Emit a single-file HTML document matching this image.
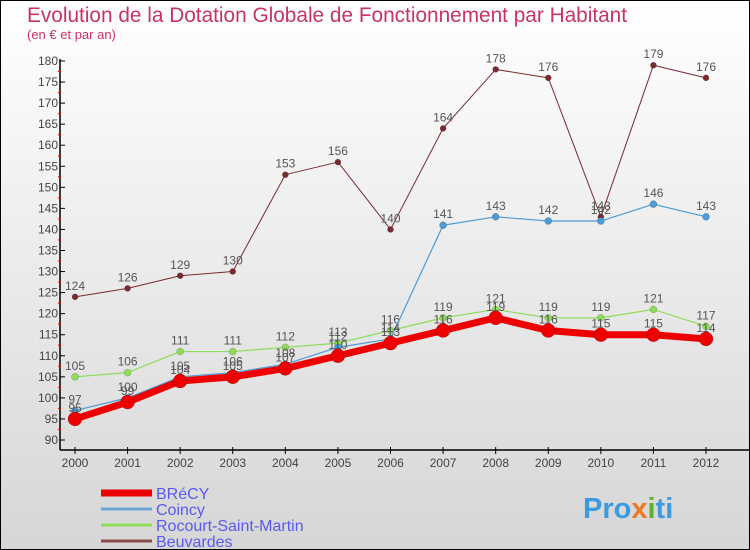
<!DOCTYPE html>
<html><head><meta charset="utf-8"><style>
body{margin:0}
#c{width:748px;height:548px;border:1px solid #000;background:linear-gradient(#fff,#d6d6d6);position:relative;font-family:"Liberation Sans",sans-serif;overflow:hidden}
</style></head><body>
<div id="c">
<svg id="s" width="748" height="548" xmlns="http://www.w3.org/2000/svg" font-family="Liberation Sans, sans-serif">
<text x="26" y="21" font-size="20.8" fill="#c8336a">Evolution de la Dotation Globale de Fonctionnement par Habitant</text>
<text x="26" y="38" font-size="13" fill="#c8336a">(en € et par an)</text>
<g id="axes"></g><g id="series"></g><g id="legend"></g>
<text x="582" y="517" font-size="29" font-weight="bold" fill="#3a9be0">Pro<tspan fill="#f07820">x</tspan><tspan fill="#60b030">i</tspan>ti</text>
</svg></div>
<script>
const years=[2000,2001,2002,2003,2004,2005,2006,2007,2008,2009,2010,2011,2012];
const brecy=[95,99,104,105,107,110,113,116,119,116,115,115,114];
const coincy=[97,100,105,106,108,112,114,141,143,142,142,146,143];
const rocourt=[105,106,111,111,112,113,116,119,121,119,119,121,117];
const beuvardes=[124,126,129,130,153,156,140,164,178,176,143,179,176];
const yTicks=[90,95,100,105,110,115,120,125,130,135,140,145,150,155,160,165,170,175,180];
const NS="http://www.w3.org/2000/svg";
const X=i=>74+i*(631/12);
const Y=v=>439-(v-90)*(379/90);
function mk(t,a,p){const e=document.createElementNS(NS,t);for(const k in a)e.setAttribute(k,a[k]);p.appendChild(e);return e;}
const ax=document.getElementById('axes');
let l=mk('line',{x1:59,y1:58,x2:59,y2:449,stroke:'#000','stroke-width':1.5},ax);


l=mk('line',{x1:59,y1:449,x2:748,y2:449,stroke:'#000','stroke-width':1.5},ax);


yTicks.forEach(v=>{mk('line',{x1:59,y1:Y(v),x2:64,y2:Y(v),stroke:'#000'},ax);
if(v<180)mk('line',{x1:57,y1:Y(v+2.5),x2:60,y2:Y(v+2.5),stroke:'#e00'},ax);
const t=mk('text',{x:57,y:Y(v)+4,'text-anchor':'end','font-size':12,fill:'#444'},ax);t.textContent=v;

});
years.forEach((y,i)=>{mk('line',{x1:X(i),y1:446,x2:X(i),y2:453,stroke:'#000'},ax);
const t=mk('text',{x:X(i),y:466,'text-anchor':'middle','font-size':12,fill:'#444'},ax);t.textContent=y;

});
const sg=document.getElementById('series');
function series(d,color,w,r,name){
const g=mk('g',{},sg);


mk('polyline',{points:d.map((v,i)=>X(i)+','+Y(v)).join(' '),fill:'none',stroke:color,'stroke-width':w,'stroke-linejoin':'round'},g);
d.forEach((v,i)=>{const c=mk('circle',{cx:X(i),cy:Y(v),r:r,fill:color,stroke:'rgba(0,0,0,0.3)','stroke-width':0.5},g);


const t=mk('text',{x:X(i),y:Y(v)-7,'text-anchor':'middle','font-size':12,fill:'#555'},g);t.textContent=v;

});}
series(beuvardes,'#7a2a30',1,3,'beuvardes');
series(rocourt,'#8edc5a',1.2,3.5,'rocourt');
series(coincy,'#4d9bd8',1.2,3.5,'coincy');
series(brecy,'#ee0000',7,7,'brecy');
const lg=document.getElementById('legend');
[['BRéCY','#ee0000',7],['Coincy','#6aa6d6',3],['Rocourt-Saint-Martin','#8edc5a',3],['Beuvardes','#8a4a4a',3]].forEach((e,i)=>{
const y=492+i*16;
const g=mk('g',{},lg);


mk('line',{x1:100,y1:y,x2:151,y2:y,stroke:e[1],'stroke-width':e[2]},g);
const t=mk('text',{x:155,y:y+6,'font-size':16,fill:'#5a5af0'},g);t.textContent=e[0];});
</script>
</body></html>
